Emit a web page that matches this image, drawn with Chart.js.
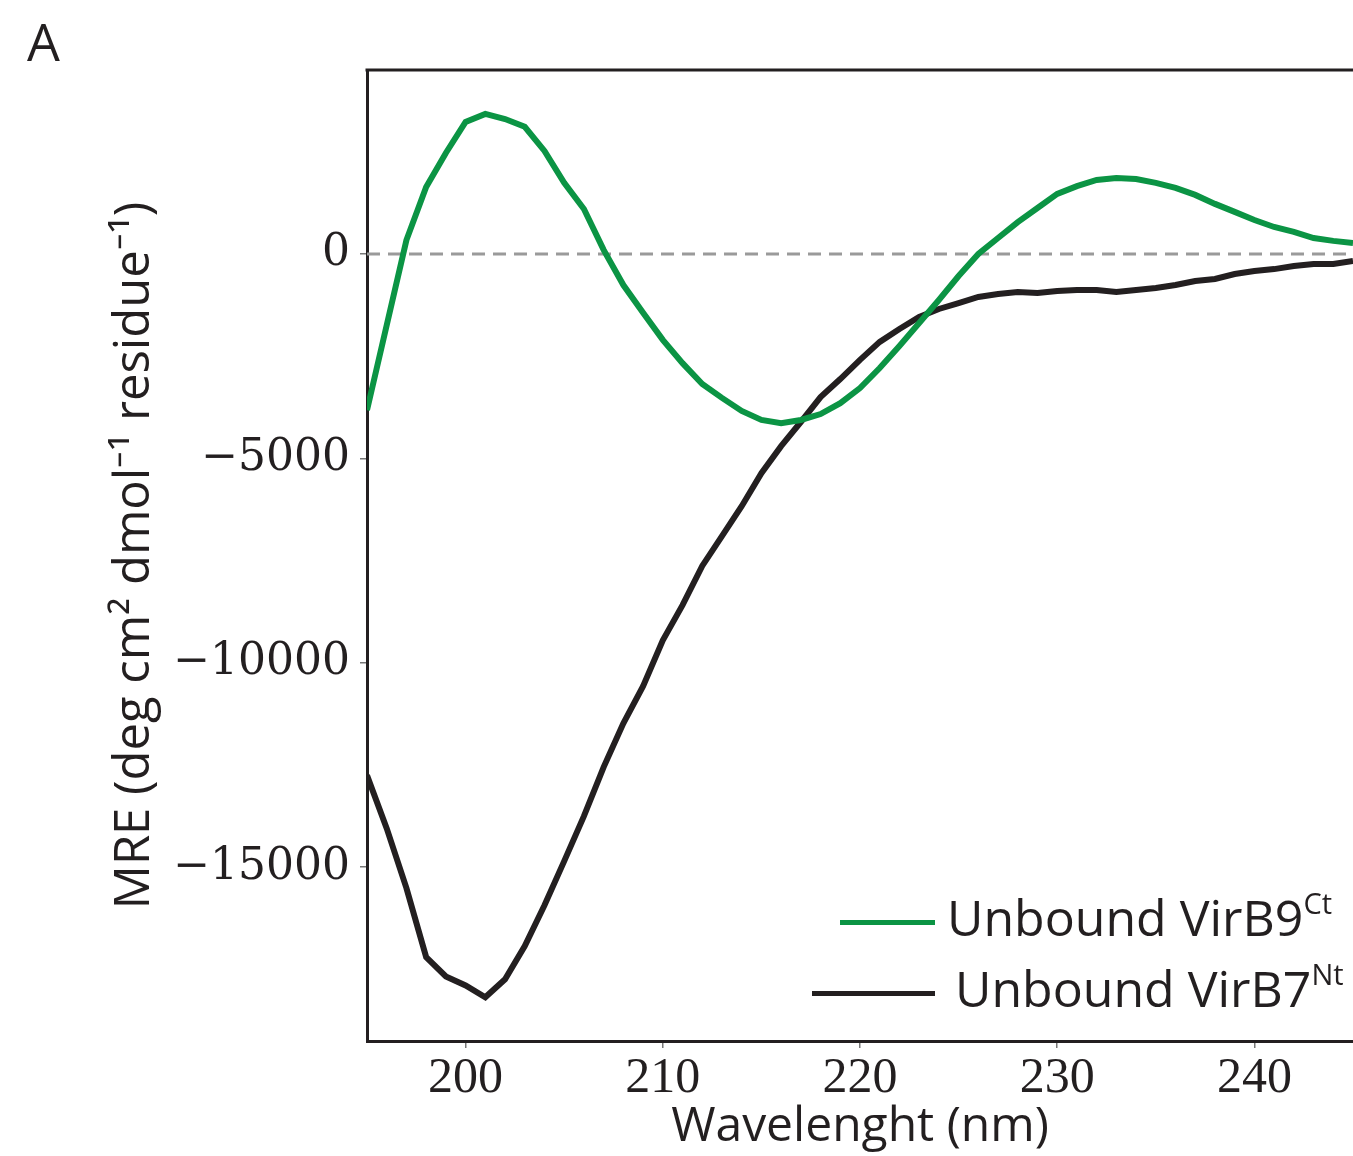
<!DOCTYPE html>
<html>
<head>
<meta charset="utf-8">
<script src="https://cdn.jsdelivr.net/npm/chart.js@4.4.0/dist/chart.umd.min.js"></script>
<style>
  body { margin: 0; background: #fff; }
  #wrap { position: relative; width: 1353px; height: 1156px; }
  #panel { position: absolute; left: 27px; top: 5px; font: 52px "Open Sans", sans-serif; color: #231f20; }
  #legend { position: absolute; left: 812px; top: 888px; font: 50px "Open Sans", sans-serif; color: #231f20; }
  #legend div { height: 71px; line-height: 58px; white-space: nowrap; }
  #legend span.sw { display: inline-block; height: 5px; vertical-align: middle; }
  #legend sup { font-size: 29px; vertical-align: 22px; line-height: 0; }
</style>
</head>
<body>
<div id="wrap">
  <canvas id="cd" width="1353" height="1156"></canvas>
  <div id="panel">A</div>
  <div id="legend">
    <div><span class="sw" style="background:#0b9444;margin-left:28px;width:95px;margin-right:12px"></span>Unbound VirB9<sup>Ct</sup></div>
    <div><span class="sw" style="background:#231f20;width:123px;margin-right:20px"></span>Unbound VirB7<sup>Nt</sup></div>
  </div>
</div>
<script>
const wavelengths = [195, 196, 197, 198, 199, 200, 201, 202, 203, 204, 205, 206, 207, 208, 209, 210,
    211, 212, 213, 214, 215, 216, 217, 218, 219, 220, 221, 222, 223, 224, 225, 226, 227, 228, 229, 230,
    231, 232, 233, 234, 235, 236, 237, 238, 239, 240, 241, 242, 243, 244, 245];

const virB9 = [-3820, -1740, 340, 1640, 2470, 3230, 3425, 3300, 3110, 2520, 1740, 1100, 100, -760, -1440, -2100,
    -2670, -3180, -3520, -3840, -4060, -4140, -4060, -3915, -3650, -3280, -2790, -2250, -1690, -1125, -540, 0,
    390, 780, 1125, 1470, 1660, 1810, 1860, 1835, 1740, 1615, 1445, 1225, 1030, 830, 660, 540, 390, 320, 270];

const virB7 = [-12750, -14050, -15510, -17200, -17670, -17890, -18180, -17740, -16930, -15930, -14850, -13750, -12550, -11480, -10570, -9450,
    -8590, -7630, -6900, -6170, -5360, -4700, -4110, -3500, -3060, -2590, -2150, -1835, -1540, -1345, -1200, -1050,
    -980, -930, -955, -905, -880, -880, -930, -880, -830, -760, -660, -610, -490, -415, -370, -295, -245, -245, -170];

const xTicks = [200, 210, 220, 230, 240];
const yTicks = [0, -5000, -10000, -15000];

const toPoints = (ys) => ys.map((y, i) => ({ x: wavelengths[i], y: y }));

// top spine (matplotlib style box without the right side)
const topSpine = {
    id: 'topSpine',
    afterDraw(chart) {
        const { ctx, chartArea } = chart;
        ctx.save();
        ctx.strokeStyle = '#231f20';
        ctx.lineWidth = 3;
        ctx.beginPath();
        ctx.moveTo(chartArea.left - 1.5, chartArea.top);
        ctx.lineTo(chartArea.right, chartArea.top);
        ctx.stroke();
        ctx.restore();
    }
};

new Chart(document.getElementById('cd'), {
    type: 'line',
    data: {
        datasets: [{
            label: 'Unbound VirB9Ct',
            data: toPoints(virB9),
            borderColor: '#0b9444',
            borderWidth: 6,
            pointRadius: 0,
            tension: 0
        }, {
            label: 'Unbound VirB7Nt',
            data: toPoints(virB7),
            borderColor: '#231f20',
            borderWidth: 6,
            pointRadius: 0,
            tension: 0
        }, {
            label: 'zero',
            data: [{ x: wavelengths[0], y: 0 }, { x: wavelengths[wavelengths.length - 1], y: 0 }],
            borderColor: '#9a9a9a',
            borderWidth: 3,
            borderDash: [13, 8],
            pointRadius: 0
        }]
    },
    options: {
        responsive: false,
        animation: false,
        layout: { padding: { top: 70, right: 0, left: 0, bottom: 0 } },
        plugins: { legend: { display: false }, tooltip: { enabled: false } },
        scales: {
            x: {
                type: 'linear',
                min: 195,
                max: 245,
                afterBuildTicks: (s) => { s.ticks = xTicks.map(v => ({ value: v })); },
                afterFit: (s) => { s.height = 115; },
                border: { display: true, color: '#231f20', width: 3 },
                grid: { drawOnChartArea: false, drawTicks: true, tickLength: 7, color: '#777', lineWidth: 1.5 },
                ticks: {
                    padding: 1,
                    color: '#231f20',
                    font: { family: '"Liberation Serif", serif', size: 50 }
                },
                title: {
                    display: true,
                    text: 'Wavelenght (nm)',
                    color: '#231f20',
                    font: { family: '"Open Sans", sans-serif', size: 48 },
                    padding: { top: 0, bottom: 0 }
                }
            },
            y: {
                min: -19250,
                max: 4500,
                afterBuildTicks: (s) => { s.ticks = yTicks.map(v => ({ value: v })); },
                afterFit: (s) => { s.width = 367; },
                border: { display: true, color: '#231f20', width: 3 },
                grid: { drawOnChartArea: false, drawTicks: true, tickLength: 7, color: '#777', lineWidth: 1.5 },
                ticks: {
                    padding: 10,
                    color: '#231f20',
                    font: { family: '"DejaVu Serif", serif', size: 44 },
                    callback: (v) => v < 0 ? '\u2212' + Math.abs(v) : String(v)
                },
                title: {
                    display: true,
                    text: 'MRE (deg cm\u00b2 dmol\u207b\u00b9 residue\u207b\u00b9)',
                    color: '#231f20',
                    font: { family: '"Open Sans", sans-serif', size: 49 },
                    padding: { top: 106, bottom: 0 }
                }
            }
        }
    },
    plugins: [topSpine]
});
</script>
</body>
</html>
